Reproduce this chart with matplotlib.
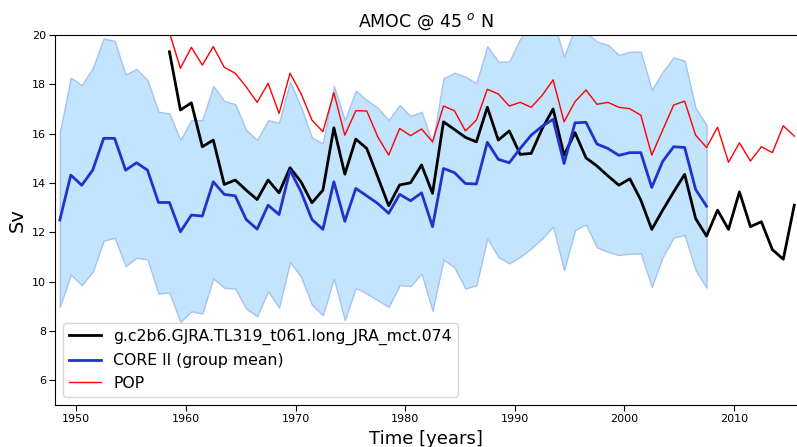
from matplotlib import pyplot as plt
import numpy as np

# CORE II group mean and spread (1948.5 - 2007.5)
core_years = np.arange(1948.5, 2008.0, 1.0)
core_mean = [12.50, 14.32, 13.91, 14.52, 15.81, 15.81, 14.52, 14.82, 14.52, 13.21,
             13.21, 12.02, 12.70, 12.66, 14.05, 13.54, 13.48, 12.52, 12.13, 13.10,
             12.72, 14.52, 13.65, 12.52, 12.12, 14.05, 12.45, 13.78, 13.48, 13.17,
             12.77, 13.54, 13.28, 13.60, 12.23, 14.59, 14.42, 13.98, 13.96, 15.65,
             14.96, 14.82, 15.40, 15.94, 16.30, 16.58, 14.79, 16.44, 16.46, 15.58,
             15.40, 15.12, 15.23, 15.23, 13.82, 14.88, 15.47, 15.44, 13.74, 13.06]
core_upper = [16.05, 18.27, 17.97, 18.65, 19.86, 19.76, 18.40, 18.62, 18.17, 16.89,
              16.82, 15.74, 16.55, 16.55, 17.93, 17.32, 17.20, 16.15, 15.74, 16.55,
              16.44, 18.11, 17.09, 15.84, 15.61, 17.93, 16.55, 17.74, 17.36, 17.05,
              16.55, 17.16, 16.71, 16.89, 15.61, 18.24, 18.47, 18.31, 18.04, 19.55,
              18.92, 18.92, 19.85, 20.40, 20.60, 20.60, 19.12, 20.30, 20.10, 19.73,
              19.60, 19.19, 19.32, 19.32, 17.77, 18.51, 19.09, 18.96, 17.03, 16.35]
core_lower = [8.98, 10.29, 9.86, 10.40, 11.66, 11.78, 10.63, 10.97, 10.90, 9.52,
              9.56, 8.37, 8.80, 8.71, 10.13, 9.75, 9.72, 8.91, 8.60, 9.61,
              8.95, 10.80, 10.20, 9.07, 8.64, 10.13, 8.44, 9.75, 9.52, 9.25,
              8.98, 9.86, 9.82, 10.33, 8.82, 10.90, 10.58, 9.72, 9.86, 11.75,
              11.01, 10.74, 11.01, 11.35, 11.75, 12.23, 10.47, 12.09, 12.32, 11.39,
              11.21, 11.08, 11.14, 11.14, 9.79, 11.00, 11.79, 11.89, 10.47, 9.76]

# model run and POP (1958.5 - 2015.5)
run_years = np.arange(1958.5, 2016.0, 1.0)
run_amoc = [19.32, 16.96, 17.25, 15.47, 15.74, 13.94, 14.12, 13.71, 13.33, 14.12,
            13.60, 14.62, 14.05, 13.20, 13.71, 16.24, 14.36, 15.78, 15.40, 14.25,
            13.08, 13.92, 14.01, 14.73, 13.58, 16.48, 16.17, 15.85, 15.67, 17.07,
            15.74, 16.11, 15.16, 15.20, 16.20, 17.00, 15.13, 16.04, 15.02, 14.69,
            14.29, 13.91, 14.17, 13.31, 12.12, 12.90, 13.64, 14.35, 12.56, 11.85,
            12.90, 12.12, 13.64, 12.23, 12.43, 11.30, 10.91, 13.10]
pop_amoc = [20.10, 18.65, 19.50, 18.78, 19.53, 18.69, 18.45, 17.90, 17.27, 18.04,
            16.82, 18.45, 17.63, 16.55, 16.08, 17.66, 15.94, 16.93, 16.92, 15.88,
            15.13, 16.21, 15.92, 16.19, 15.67, 17.12, 16.93, 16.11, 16.55, 17.80,
            17.61, 17.12, 17.27, 17.07, 17.55, 18.18, 16.48, 17.30, 17.77, 17.19,
            17.27, 17.07, 17.01, 16.75, 15.13, 16.15, 17.16, 17.32, 15.94, 15.44,
            16.26, 14.84, 15.63, 14.89, 15.47, 15.23, 16.32, 15.90]

run_name = 'g.c2b6.GJRA.TL319_t061.long_JRA_mct.074'

fig = plt.figure(figsize=(7.97, 4.47), dpi=100)
ax = fig.add_axes([55 / 797, 1 - 405 / 447, 742 / 797, 370 / 447])

ax.fill_between(core_years, core_lower, core_upper, facecolor='#c2e4fc',
                edgecolor='#a6c2f0', linewidth=1.0)
ax.plot(run_years, run_amoc, color='k', lw=2, label=run_name)
ax.plot(core_years, core_mean, color='#2233cc', lw=2,
        label='CORE II (group mean)')
ax.plot(run_years, pop_amoc, color='red', lw=1, label='POP')

ax.set_xlim(1948.06, 2015.75)
ax.set_ylim(5, 20)
ax.set_yticks(np.arange(6, 21, 2))
ax.spines['right'].set_visible(False)
ax.tick_params(labelsize=8, length=4, pad=2.5)

ax.set_title(r'AMOC @ 45 $^o$ N', fontsize=12.5)
ax.set_xlabel('Time [years]', fontsize=13)
ax.set_ylabel('Sv', fontsize=14)
ax.legend(loc='lower left', fontsize=11.3)

plt.savefig('out.png', dpi=100)
